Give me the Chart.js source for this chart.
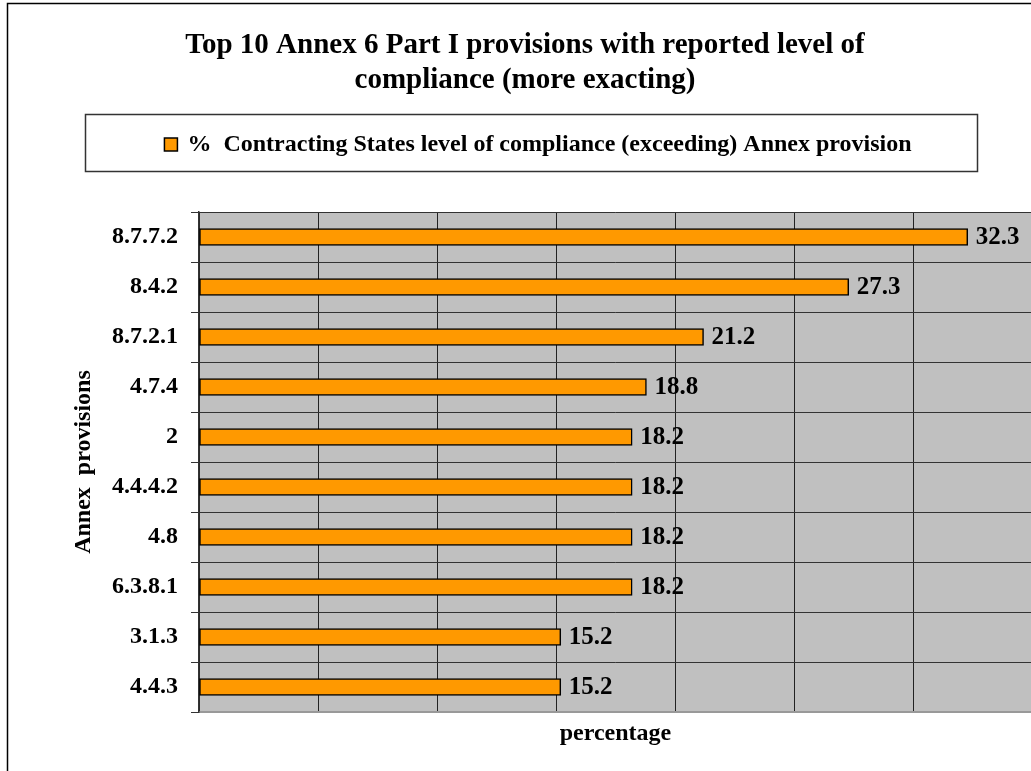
<!DOCTYPE html>
<html>
<head>
<meta charset="utf-8">
<script src="https://cdn.jsdelivr.net/npm/chart.js@4"></script>
<style>
  html, body { margin: 0; padding: 0; background: #fff; overflow: hidden; }
  #wrap { width: 1040px; height: 771px; }
</style>
</head>
<body>
<div id="wrap"><canvas id="chart" width="1040" height="771"></canvas></div>
<script>
// data
const provisions = ['8.7.7.2', '8.4.2', '8.7.2.1', '4.7.4', '2', '4.4.4.2', '4.8', '6.3.8.1', '3.1.3', '4.4.3'];
const compliance = [32.3, 27.3, 21.2, 18.8, 18.2, 18.2, 18.2, 18.2, 15.2, 15.2];
const seriesLabel = '%  Contracting States level of compliance (exceeding) Annex provision';
const titleLines = ['Top 10 Annex 6 Part I provisions with reported level of', 'compliance (more exacting)'];

const serif = '"Liberation Serif", "Times New Roman", serif';

// grey plot background + outer frame
const backdrop = {
    id: 'backdrop',
    beforeDraw(chart) {
        const { ctx, chartArea } = chart;
        ctx.save();
        ctx.fillStyle = '#C0C0C0';
        ctx.fillRect(chartArea.left, chartArea.top, chartArea.right - chartArea.left, chartArea.bottom - chartArea.top);
        ctx.strokeStyle = '#000';
        ctx.lineWidth = 1.5;
        ctx.strokeRect(7.5, 3.5, 1200, 1000);
        ctx.restore();
    }
};

// legend drawn in a fixed box like the original
const boxedLegend = {
    id: 'boxedLegend',
    afterDraw(chart) {
        const { ctx } = chart;
        const ds = chart.data.datasets[0];
        ctx.save();
        ctx.strokeStyle = '#333';
        ctx.lineWidth = 1.5;
        ctx.strokeRect(85.5, 114.5, 892, 57);
        ctx.font = 'bold 24px ' + serif;
        ctx.textBaseline = 'middle';
        const tw = ctx.measureText(ds.label).width;
        const total = 13 + 10 + tw;
        let x = 538 - total / 2;
        const y = 145;
        ctx.fillStyle = ds.backgroundColor;
        ctx.fillRect(x, y - 7, 13, 13);
        ctx.strokeStyle = '#000';
        ctx.lineWidth = 1.5;
        ctx.strokeRect(x, y - 7, 13, 13);
        ctx.fillStyle = '#000';
        ctx.fillText(ds.label, x + 23, y);
        ctx.restore();
    }
};

// value labels at the end of each bar
const valueLabels = {
    id: 'valueLabels',
    afterDatasetsDraw(chart) {
        const { ctx } = chart;
        const meta = chart.getDatasetMeta(0);
        ctx.save();
        ctx.font = 'bold 25px ' + serif;
        ctx.fillStyle = '#000';
        ctx.textBaseline = 'middle';
        meta.data.forEach((bar, i) => {
            ctx.fillText(compliance[i].toFixed(1), bar.x + 8, bar.y + 1);
        });
        ctx.restore();
    }
};

new Chart(document.getElementById('chart'), {
    type: 'bar',
    data: {
        labels: provisions,
        datasets: [{
            label: seriesLabel,
            data: compliance,
            backgroundColor: '#FF9900',
            borderColor: '#000',
            borderWidth: 1.5,
            borderSkipped: false,
            barThickness: 17
        }]
    },
    options: {
        indexAxis: 'y',
        responsive: false,
        animation: false,
        devicePixelRatio: 1,
        layout: { padding: { left: 18, right: 8, top: 0, bottom: 0 } },
        scales: {
            x: {
                min: 0,
                max: 35,
                ticks: { display: false, stepSize: 5 },
                grid: { color: '#222', lineWidth: 1, drawTicks: false },
                border: { color: '#999', width: 2 },
                title: {
                    display: true,
                    text: 'percentage',
                    font: { family: serif, size: 24, weight: 'bold' },
                    color: '#000',
                    padding: { top: 0, bottom: 23 }
                },
                afterFit(scale) { scale.height = 59; }
            },
            y: {
                ticks: {
                    font: { family: serif, size: 24, weight: 'bold' },
                    color: '#000',
                    padding: 13
                },
                grid: { color: '#333', lineWidth: 1, offset: true, tickLength: 8 },
                border: { color: '#333', width: 1.5 },
                title: {
                    display: true,
                    text: 'Annex  provisions',
                    font: { family: serif, size: 24, weight: 'bold' },
                    color: '#000',
                    padding: { top: 51, bottom: 0 }
                },
                afterFit(scale) { scale.width = 181; }
            }
        },
        plugins: {
            legend: { display: false },
            tooltip: { enabled: false },
            title: {
                display: true,
                text: titleLines,
                color: '#000',
                font: { family: serif, size: 29, weight: 'bold', lineHeight: 35 / 29 },
                padding: { top: 28.5, bottom: 113.5 }
            }
        }
    },
    plugins: [backdrop, boxedLegend, valueLabels]
});
</script>
</body>
</html>
